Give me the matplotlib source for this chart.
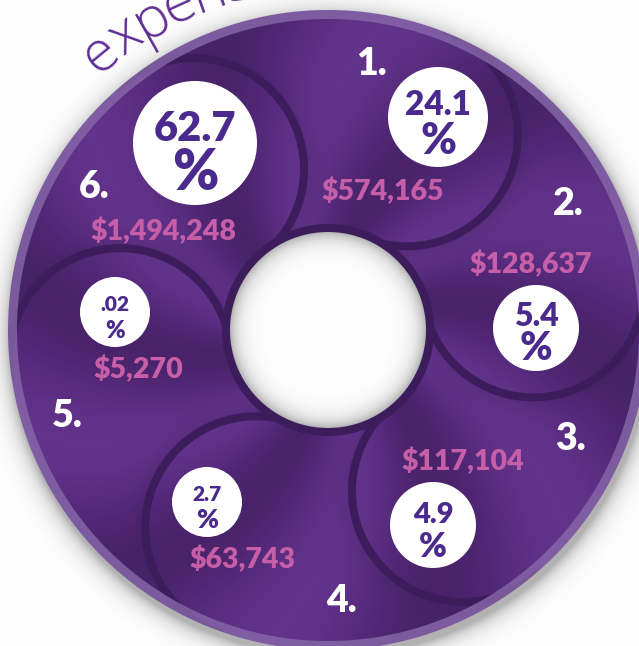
import numpy as np
import matplotlib.pyplot as plt
from matplotlib.patches import Circle

# ---------------------------------------------------------------------------
# Data: six expense segments, numbered clockwise from the top
# ---------------------------------------------------------------------------
labels = ["1.", "2.", "3.", "4.", "5.", "6."]
percents = ["24.1", "5.4", "4.9", "2.7", ".02", "62.7"]
amounts = ["$574,165", "$128,637", "$117,104", "$63,743", "$5,270", "$1,494,248"]
title_word = "expenses"

# ---------------------------------------------------------------------------
# Layout (pixel coordinates, y pointing down)
# ---------------------------------------------------------------------------
W, H = 639, 646
cx, cy = 328, 330
r_out = 320          # outer edge of the ring
rim = 9              # light outer rim
r_hole = 98          # white hole
r_hole_edge = 106    # dark border round the hole

lobe_angle = [68, 12, -50, -110, -172, 130]   # direction of each blade circle
lobe_dist, lobe_r = 210, 111
arc_w = 8

badge_xy = [(438, 117), (536, 328), (433, 525), (207, 502), (115, 312), (195, 143)]
badge_r = [50, 43, 43, 35, 35, 62]
num_size = [24, 23, 21, 15, 15, 30]
pct_size = [31, 28, 24, 19, 17, 40]
label_xy = [(371, 75), (568, 215), (570, 450), (341, 612), (67, 427), (94, 198)]
amount_xy = [(383, 200), (531, 273), (463, 470), (242, 568), (138, 378), (163, 240)]

purple_base = np.array([0x56, 0x2a, 0x7c]) / 255
purple_light = np.array([0x6a, 0x38, 0x93]) / 255
purple_dark = np.array([0x42, 0x1f, 0x60]) / 255
arc_col = np.array([0x3d, 0x1c, 0x5b]) / 255
rim_col = np.array([0x88, 0x68, 0xaa]) / 255
text_purple = "#4a2a8c"
pink = "#c65fa8"

# ---------------------------------------------------------------------------
# Raster background: shaded ring, blade arcs, rim, hole and shadows
# ---------------------------------------------------------------------------
yy, xx = np.mgrid[0:H, 0:W] + 0.5
rr = np.hypot(xx - cx, cy - yy)
theta = np.arctan2(cy - yy, xx - cx)

ang = np.radians(lobe_angle)
lcx = cx + lobe_dist * np.cos(ang)
lcy = cy - lobe_dist * np.sin(ang)
d = np.stack([np.hypot(xx - lcx[i], yy - lcy[i]) for i in range(6)])
inside = d < lobe_r

# smooth six-fold metallic sheen, slightly swirled with radius
swirl = theta + 0.45 * (rr - 210) / 210
b = 0.65 * np.cos(6 * (swirl - np.radians(lobe_angle[0] + 24)))
b = b[..., None]
img = (purple_base + (purple_light - purple_base) * np.clip(b, 0, None)
       + (purple_dark - purple_base) * np.clip(-b, 0, None))

rel = []
for i in range(6):
    phii = np.arctan2(lcy[i] - yy, xx - lcx[i])
    rel.append((phii - ang[i] + np.pi) % (2 * np.pi) - np.pi)

# soft shadow cast past the leading edge of each blade
for i in range(6):
    m = (d[i] > lobe_r) & (rel[i] <= 0.05) & (~inside[(i - 1) % 6])
    s = np.where(m, 0.4 * np.exp(-(d[i] - lobe_r) / 12), 0)[..., None]
    img = img * (1 - s) + purple_dark * s

# leading arc of each blade
for i in range(6):
    cov = np.clip(arc_w / 2 + 0.5 - np.abs(d[i] - lobe_r), 0, 1)
    cov = cov * (rel[i] <= 0.05) * (~inside[(i - 1) % 6])
    cov = cov[..., None]
    img = img * (1 - cov) + arc_col * cov

# rim
rim_a = (np.clip(rr - (r_out - rim) + 0.5, 0, 1) * 0.8)[..., None]
img = img * (1 - rim_a) + rim_col * rim_a

# hole: dark border, white face with inner shadow
edge_a = np.clip(r_hole_edge + 0.5 - rr, 0, 1)[..., None]
img = img * (1 - edge_a) + arc_col * edge_a
hole_v = 1 - 0.3 * np.exp(-np.clip(r_hole - rr, 0, None) / 9)
hole_a = np.clip(r_hole + 0.5 - rr, 0, 1)[..., None]
img = img * (1 - hole_a) + hole_v[..., None] * hole_a

# outside: white page with a soft drop shadow
rs = np.hypot(xx - cx - 2, cy + 6 - yy)
out_v = 1 - 0.3 * np.exp(-np.clip(rs - r_out, 0, None) / 9)
out_a = np.clip(rr - r_out + 0.5, 0, 1)[..., None]
img = img * (1 - out_a) + out_v[..., None] * out_a
img = np.clip(img, 0, 1)

# ---------------------------------------------------------------------------
# Figure
# ---------------------------------------------------------------------------
plt.rcParams['font.family'] = ['Lato', 'DejaVu Sans']
fig = plt.figure(figsize=(W / 100, H / 100), dpi=100)
ax = fig.add_axes([0, 0, 1, 1])
ax.imshow(img, extent=(0, W, H, 0), interpolation='nearest')
ax.set_xlim(0, W)
ax.set_ylim(H, 0)
ax.axis('off')

# curved title word along the top-left of the ring
t_r = 342
t_start, t_step = 129.5, 5.0
for k, ch in enumerate(title_word):
    a = np.radians(t_start - k * t_step)
    ax.text(cx + t_r * np.cos(a), cy - t_r * np.sin(a), ch,
            rotation=np.degrees(a) - 90, rotation_mode='anchor',
            ha='center', va='baseline', fontsize=41, fontweight='light',
            family=['Open Sans', 'DejaVu Sans'], color='#5e2e94')

for i in range(6):
    bx, by = badge_xy[i]
    br = badge_r[i]
    ax.add_patch(Circle((bx, by), br, facecolor='white', edgecolor='none', zorder=3))
    ax.text(bx, by - 0.04 * br, percents[i], ha='center', va='baseline',
            fontsize=num_size[i], fontweight='heavy', color=text_purple, zorder=4)
    ax.text(bx, by + 0.75 * br, "%", ha='center', va='baseline',
            fontsize=pct_size[i], fontweight='heavy', color=text_purple, zorder=4)

    lx, ly = label_xy[i]
    ax.text(lx, ly, labels[i], ha='center', va='baseline', fontsize=27,
            fontweight='heavy', color='white', zorder=4)

    mx, my = amount_xy[i]
    ax.text(mx, my, amounts[i], ha='center', va='baseline', fontsize=20.5,
            fontweight='heavy', color=pink, zorder=4)

fig.savefig('out.png', dpi=100)
